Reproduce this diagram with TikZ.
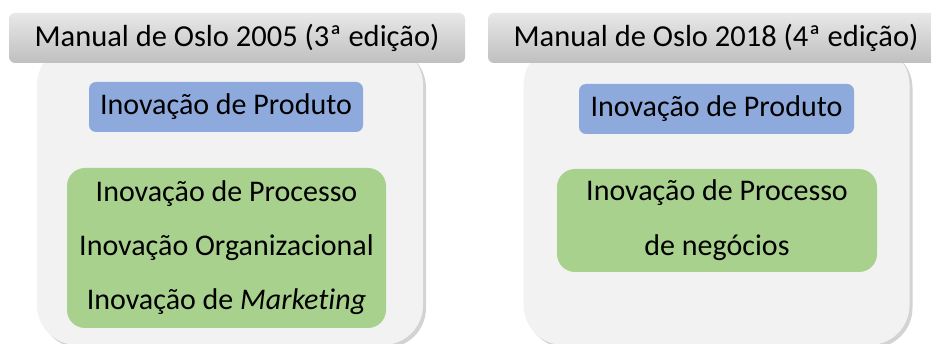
\documentclass[tikz,border=0pt]{standalone}
\usepackage{fontspec}
\setmainfont{Carlito}[Ligatures=NoCommon]
\usetikzlibrary{shadows}
\definecolor{boxgray}{HTML}{F2F2F2}
\definecolor{prodblue}{HTML}{8EA9DB}
\definecolor{procgreen}{HTML}{A9D18E}
\begin{document}
\begin{tikzpicture}[x=1pt,y=-1pt, outer sep=0pt,inner sep=0pt,
    edition/.style={rounded corners=40pt, fill=boxgray, minimum width=386pt, minimum height=300pt,
      drop shadow={shadow xshift=3pt, shadow yshift=-3pt, opacity=.35}},
    header/.style={rounded corners=6pt, top color=gray!18, bottom color=gray!50, minimum width=456pt, minimum height=50pt, font=\fontsize{30.5}{33}\selectfont},
    product/.style={rounded corners=7pt, fill=prodblue, minimum height=50pt, font=\fontsize{30}{33}\selectfont},
    process/.style={rounded corners=18pt, fill=procgreen, font=\fontsize{30}{33}\selectfont, align=center}]
    \useasboundingbox (0,0) rectangle (931,344);
    \node[edition] (e1) at (230,195) {};
    \node[edition] (e2) at (716.5,195) {};
    \node[header] (h1) at (237,38) {Manual de Oslo 2005 (3ª edição)};
    \node[header] (h2) at (716,38) {Manual de Oslo 2018 (4ª edição)};
    \node[product, minimum width=274pt] (p1) at (226,107) {Inovação de Produto};
    \node[product, minimum width=275pt] (p2) at (716.5,109) {Inovação de Produto};
    \node[process, minimum width=319pt, minimum height=160pt] (g1) at (226.5,248)
      {Inovação de Processo\\[21pt]Inovação Organizacional\\[21pt]Inovação de \textit{Marketing}};
    \node[process, minimum width=320pt, minimum height=103pt] (g2) at (717,220.5)
      {Inovação de Processo\\[22pt]de negócios};
\end{tikzpicture}
\end{document}
